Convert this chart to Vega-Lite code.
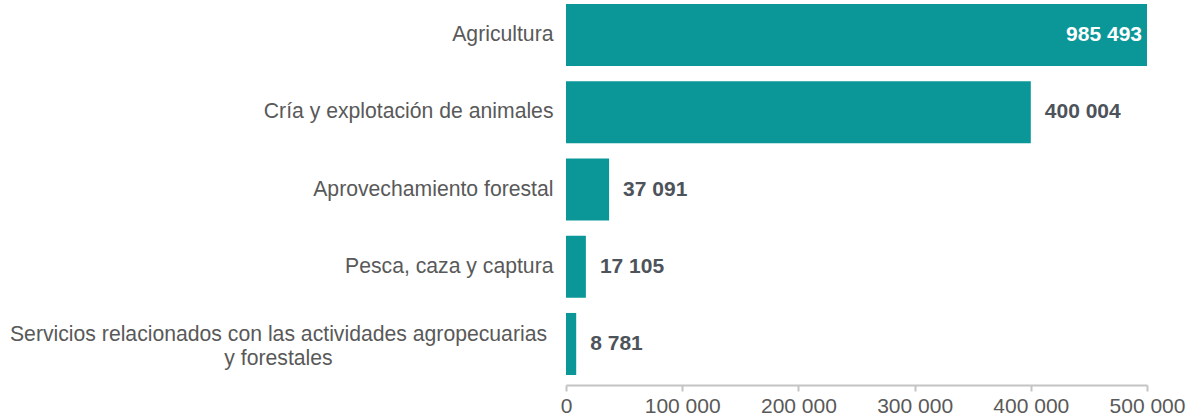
{
  "$schema": "https://vega.github.io/schema/vega-lite/v6.json",
  "autosize": {"type": "none"},
  "padding": {"left": 566, "top": 0, "right": 49, "bottom": 41},
  "width": 581,
  "height": 379,
  "config": {
    "view": {"stroke": null},
    "font": "Liberation Sans",
    "locale": {"number": {"decimal": ",", "thousands": " ", "grouping": [3], "currency": ["", ""]}}
  },
  "data": {
    "values": [
      {"actividad": "Agricultura", "valor": 985493},
      {"actividad": "Cría y explotación de animales", "valor": 400004},
      {"actividad": "Aprovechamiento forestal", "valor": 37091},
      {"actividad": "Pesca, caza y captura", "valor": 17105},
      {"actividad": "Servicios relacionados con las actividades agropecuarias y forestales", "valor": 8781}
    ]
  },
  "encoding": {
    "y": {
      "field": "actividad",
      "type": "nominal",
      "sort": null,
      "scale": {"paddingInner": 0.197, "paddingOuter": 0.052},
      "axis": {
        "title": null,
        "domain": false,
        "ticks": false,
        "labelPadding": {"condition": {"test": "indexof(datum.value, 'Servicios') == 0", "value": 288}, "value": 13},
        "labelAlign": {"condition": {"test": "indexof(datum.value, 'Servicios') == 0", "value": "center"}, "value": "right"},
        "labelOffset": {"condition": {"test": "indexof(datum.value, 'Servicios') == 0", "value": -9}, "value": 0},
        "labelFontSize": 21.2,
        "labelColor": "#595959",
        "labelLimit": 600,
        "labelLineHeight": 24,
        "labelExpr": "indexof(datum.label, 'Servicios') == 0 ? ['Servicios relacionados con las actividades agropecuarias', 'y forestales'] : datum.label"
      }
    },
    "x": {
      "field": "valor",
      "type": "quantitative",
      "scale": {"domain": [0, 500000], "clamp": true, "nice": false},
      "axis": {
        "title": null,
        "values": [0, 100000, 200000, 300000, 400000, 500000],
        "labelExpr": "format(datum.value, ',')",
        "grid": false,
        "offset": 6,
        "domainColor": "#c4c4c4",
        "domainWidth": 2,
        "tickColor": "#c4c4c4",
        "tickWidth": 2,
        "tickSize": 6,
        "labelPadding": 4,
        "labelFontSize": 21,
        "labelColor": "#595959",
        "labelFlush": false
      }
    }
  },
  "layer": [
    {"mark": {"type": "bar", "color": "#0b9798"}},
    {
      "transform": [{"filter": "datum.valor > 500000"}],
      "mark": {"type": "text", "align": "right", "baseline": "middle", "dx": -5, "fontSize": 21, "fontWeight": "bold", "color": "#ffffff"},
      "encoding": {"text": {"field": "valor", "type": "quantitative", "format": ","}}
    },
    {
      "transform": [{"filter": "datum.valor <= 500000"}],
      "mark": {"type": "text", "align": "left", "baseline": "middle", "dx": 14, "fontSize": 21, "fontWeight": "bold", "color": "#4d535a"},
      "encoding": {"text": {"field": "valor", "type": "quantitative", "format": ","}}
    }
  ]
}
